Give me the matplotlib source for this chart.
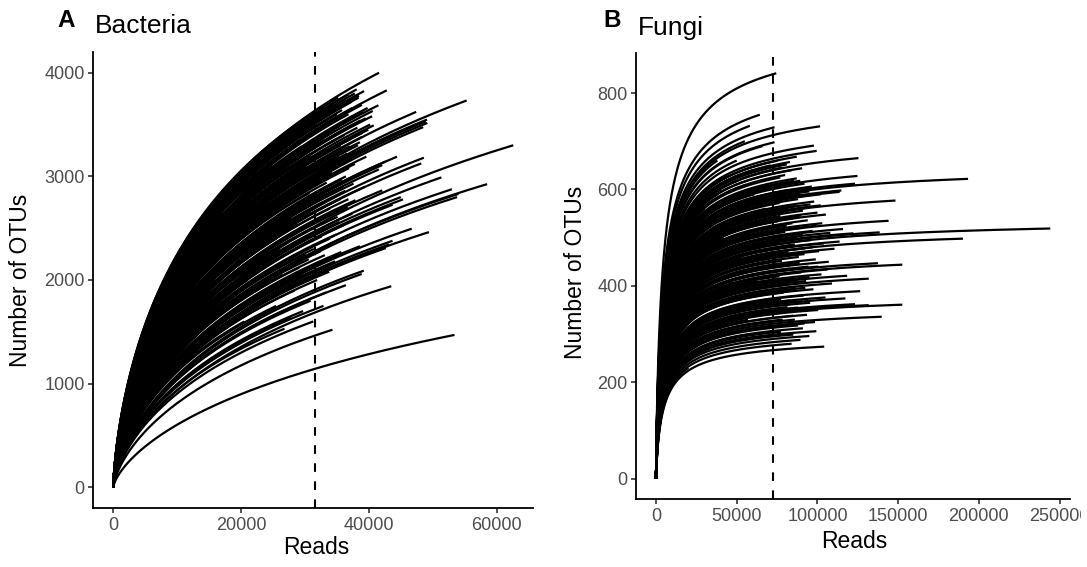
import numpy as np
import matplotlib
matplotlib.use("Agg")
import matplotlib.pyplot as plt
from matplotlib.transforms import Bbox, TransformedBbox

plt.rcParams['font.family'] = ['Liberation Sans', 'DejaVu Sans']
plt.rcParams['lines.scale_dashes'] = False

# end points of every rarefaction curve (reads, OTUs)
bac_reads = [
    41600, 42800, 39250, 38450, 38100, 37800, 55300, 47400,
    41500, 40600, 40750, 49100, 49150, 48900, 48500, 62600,
    44400, 42640, 42100, 41560, 48600, 48200, 51350, 42100,
    58500, 53000, 54000, 53800, 45000, 45330, 43715, 46700,
    49400, 43700, 43175, 42640, 38600, 39200, 38875, 36400,
    43500, 34300, 26800, 53400,
    33500, 35200, 36800, 34000, 36000, 37300, 32500, 35000,
    38900, 39800, 33200, 36500, 37800, 39500, 31000, 34600,
    38200, 40200, 29500, 33000, 36200, 37500, 39000, 28500,
    31800, 35600, 37000, 38600, 30500, 33800, 36600, 38000,
    29000, 32400, 35400, 37200, 39600, 27500, 31200, 34200,
    36900, 38400, 30000, 33400, 35800, 37600, 28200, 31600,
    34800, 36300, 39400, 29800, 32800, 35500, 37900, 27000,
    30800, 33900, 36700, 28800, 32000, 35100, 37400, 30300,
    33600, 36100, 29300, 32600, 34900, 31400, 34400, 30600,
    33100, 35700, 29100, 32200, 34700, 31900, 28400, 33300,
    30900, 29700, 32900, 27800, 31300,
    32000, 34500, 36200, 38400, 33000, 35800, 37400, 39200,
    31500, 34200, 36800, 38700, 40500, 30500, 33600, 35200,
    37700, 39900, 32200, 34900, 37100, 38900, 31000, 33400,
    36000, 38300, 30200, 32900, 35300, 37800, 29400, 32300,
    34600, 36400, 30700, 33700, 35900, 31700, 34100, 36800,
    32700, 35400, 31100, 33900, 30100, 32500, 29600, 31800,
    33800,
    15000, 20000, 22000, 25000, 18000, 24000, 26000, 21000,
    23500, 26500, 12000, 27500, 17000, 19000, 21500, 23000,
    24500, 26000, 27000, 28000, 16000, 19500, 22500, 25500,
    14000, 18500, 24000, 28500, 20500, 25500, 13000, 10000,
]
bac_otus = [
    4000, 3830, 3823, 3778, 3840, 3800, 3732, 3622,
    3686, 3631, 3492, 3548, 3515, 3530, 3475, 3300,
    3190, 3144, 3109, 3067, 3180, 3125, 2990, 2865,
    2925, 2876, 2830, 2800, 2800, 2778, 2726, 2495,
    2462, 2378, 2343, 2308, 2326, 2090, 2058, 1950,
    1940, 1520, 1530, 1470,
    3700, 3760, 3790, 3650, 3700, 3720, 3560, 3600,
    3690, 3660, 3480, 3540, 3580, 3560, 3400, 3450,
    3470, 3500, 3290, 3350, 3400, 3380, 3420, 3200,
    3250, 3300, 3290, 3330, 3150, 3200, 3220, 3240,
    3050, 3100, 3130, 3160, 3190, 2950, 3000, 3040,
    3080, 3020, 2900, 2940, 2970, 2930, 2800, 2830,
    2870, 2860, 2900, 2720, 2750, 2780, 2770, 2620,
    2660, 2690, 2700, 2540, 2580, 2610, 2640, 2470,
    2500, 2530, 2380, 2420, 2440, 2300, 2350, 2200,
    2240, 2270, 2120, 2150, 2180, 2000, 1900, 1880,
    1800, 1700, 1750, 1640, 1600,
    3620, 3690, 3740, 3760, 3580, 3640, 3660, 3620,
    3480, 3540, 3600, 3540, 3580, 3380, 3420, 3480,
    3500, 3450, 3320, 3360, 3360, 3380, 3200, 3260,
    3280, 3300, 3100, 3160, 3190, 3120, 2980, 3040,
    3090, 3000, 2840, 2880, 2900, 2700, 2740, 2780,
    2600, 2560, 2500, 2400, 2250, 2280, 2050, 2100,
    2080,
    2400, 2700, 2900, 3100, 2200, 2500, 2300, 2000,
    1800, 2050, 1900, 3250, 2600, 2800, 2600, 2950,
    2750, 2850, 3050, 2600, 2000, 2300, 2200, 2400,
    1700, 1900, 2000, 2350, 1600, 1750, 2100, 1800,
]

fun_reads = [
    74480, 64300, 58140, 73420, 101640, 73420, 97820, 99520,
    87210, 125400, 82970, 124780, 123290, 193300, 87210, 89340,
    114800, 113740, 148330, 102070, 95700, 102070, 105250, 144080,
    115860, 122230, 138570, 244240, 190130, 113740, 110560, 106310,
    137510, 152570, 118410, 131780, 126470, 117350, 131780, 123290,
    152570, 139840, 99310, 85090, 104190,
    78000, 84000, 80000, 92000, 76000, 86000, 95000, 79000,
    88000, 98000, 82000, 91000, 100000, 77000, 85000, 94000,
    103000, 81000, 89000, 97000, 108000, 78500, 87500, 96000,
    104000, 83000, 92500, 101000, 79500, 88500, 99000, 107000,
    84500, 94500, 76500, 90000, 102500, 81500, 93000, 109000,
    86500, 97500, 79000, 91500, 105000, 83500, 95500, 88000,
    100500, 80500, 93500, 86000, 98500, 82500, 91000, 77500,
    95000, 89500, 84000,
    75500, 81000, 90500, 77000, 85500, 96500, 80500, 89500,
    76500, 86500, 93000, 79000, 90000, 75500, 84500, 99500,
    80000, 91000, 76000, 86000, 97000, 82000, 92000, 78000,
    89000, 100500, 83000, 76500, 95000, 87000, 80000, 92500,
    84000, 77500, 90500, 81500, 96000, 85000, 78500, 92000,
    81000, 88000,
    30000, 45000, 55000, 40000, 60000, 50000, 35000, 25000,
    65000, 48000, 62000, 70000, 42000, 20000, 52000, 68000,
    57000, 38000, 66000, 20000, 25000, 28000, 32000, 35000,
    38000, 44000, 47000, 53000, 58000, 61000, 64000, 67000,
    69000, 71000, 36000, 42000, 46000, 50000, 55000, 59000,
    63000, 27000, 33000, 40000, 18000, 22000, 30000, 56000,
    60000,
]
fun_otus = [
    841, 755, 732, 729, 731, 698, 691, 680,
    668, 665, 657, 628, 612, 622, 623, 618,
    598, 595, 577, 590, 569, 567, 548, 535,
    518, 509, 511, 519, 498, 492, 477, 434,
    447, 444, 421, 415, 389, 374, 360, 362,
    361, 336, 306, 299, 274,
    645, 640, 630, 612, 605, 600, 596, 585,
    580, 575, 560, 556, 552, 545, 540, 536,
    530, 525, 520, 514, 510, 505, 500, 495,
    488, 482, 478, 472, 465, 460, 455, 450,
    445, 440, 432, 428, 424, 416, 410, 405,
    398, 393, 386, 380, 376, 370, 365, 355,
    350, 345, 340, 330, 325, 318, 312, 305,
    296, 288, 280,
    660, 652, 644, 625, 618, 606, 598, 590,
    572, 566, 562, 552, 546, 534, 530, 525,
    512, 508, 490, 486, 480, 470, 466, 452,
    448, 440, 436, 420, 418, 412, 402, 396,
    390, 372, 368, 356, 352, 338, 330, 322,
    300, 318,
    380, 450, 520, 600, 640, 570, 300, 260,
    480, 350, 410, 610, 500, 230, 620, 560,
    330, 660, 690, 300, 350, 420, 480, 540,
    590, 630, 410, 460, 540, 590, 380, 440,
    510, 650, 400, 370, 520, 660, 700, 300,
    340, 310, 270, 480, 360, 410, 560, 610,
    470,
]

# rarefaction depth used in each dataset
bac_depth = 31600
fun_depth = 72600


def rarefy(n, n_end, s_end, k, h):
    """saturating curve from (0, 0) to (n_end, s_end)"""
    g = lambda x: x ** h / (k ** h + x ** h)
    return s_end * g(n) / g(n_end)


def panel(ax, reads, otus, depth, kfun, h, xticks, yticks):
    for n_end, s_end in zip(reads, otus):
        n = n_end * np.linspace(0, 1, 500) ** 2
        ax.plot(n, rarefy(n, n_end, s_end, kfun(n_end, s_end), h),
                color='black', lw=1.6, solid_capstyle='butt',
                solid_joinstyle='round')
    ax.axvline(depth, color='black', lw=1.5, dashes=(6.2, 6.8))

    # ggplot style 5% expansion
    xr = max(reads)
    yr = max(otus)
    ax.set_xlim(-0.05 * xr, 1.05 * xr)
    ax.set_ylim(-0.05 * yr, 1.05 * yr)
    ax.set_xticks(xticks)
    ax.set_xticklabels([str(t) for t in xticks])
    ax.set_yticks(yticks)
    ax.set_yticklabels([str(t) for t in yticks])

    for side in ['top', 'right']:
        ax.spines[side].set_visible(False)
    for side in ['left', 'bottom']:
        ax.spines[side].set_linewidth(1.3)
        ax.spines[side].set_color('black')
    ax.tick_params(axis='both', length=3.3, width=1.2, color='#333333',
                   labelsize=13, labelcolor='#4D4D4D')
    ax.tick_params(axis='x', pad=3.3)
    ax.tick_params(axis='y', pad=3)


W, H = 1087, 567
fig = plt.figure(figsize=(W / 100, H / 100), dpi=100)


def px_axes(l, t, r, b):
    return fig.add_axes([l / W, 1 - b / H, (r - l) / W, (b - t) / H])


ax1 = px_axes(93.3, 52, 533.3, 508)
ax2 = px_axes(636.3, 53, 1070, 499)

# bacterial curves flatten less when there are few OTUs per read
panel(ax1, bac_reads, bac_otus, bac_depth, lambda n, s: 3400 * n / s, 0.7,
      [0, 20000, 40000, 60000], [0, 1000, 2000, 3000, 4000])
panel(ax2, fun_reads, fun_otus, fun_depth, lambda n, s: 5000, 0.8,
      [0, 50000, 100000, 150000, 200000, 250000], [0, 200, 400, 600, 800])

# the last tick label is cut by the plot border in the original
clip = TransformedBbox(Bbox([[0, 0], [1081 / W, 1]]), fig.transFigure)
for lab in ax2.get_xticklabels():
    lab.set_clip_on(True)
    lab.set_clip_box(clip)


def ftext(x, y, s, **kw):
    fig.text(x / W, 1 - y / H, s, **kw)


ftext(57, 27, 'A', fontsize=17.5, fontweight='bold', va='baseline')
ftext(95, 33.4, 'Bacteria', fontsize=19, va='baseline')
ftext(603, 27, 'B', fontsize=17.5, fontweight='bold', va='baseline')
ftext(638, 34.5, 'Fungi', fontsize=19, va='baseline')

ftext(316.7, 548, 'Reads', fontsize=16.5, ha='center', va='center')
ftext(854.5, 541, 'Reads', fontsize=16.5, ha='center', va='center')
ftext(21, 280, 'Number of OTUs', fontsize=16.5, ha='center', va='center', rotation=90)
ftext(575, 272, 'Number of OTUs', fontsize=16.5, ha='center', va='center', rotation=90)

fig.savefig('out.png', dpi=100)
